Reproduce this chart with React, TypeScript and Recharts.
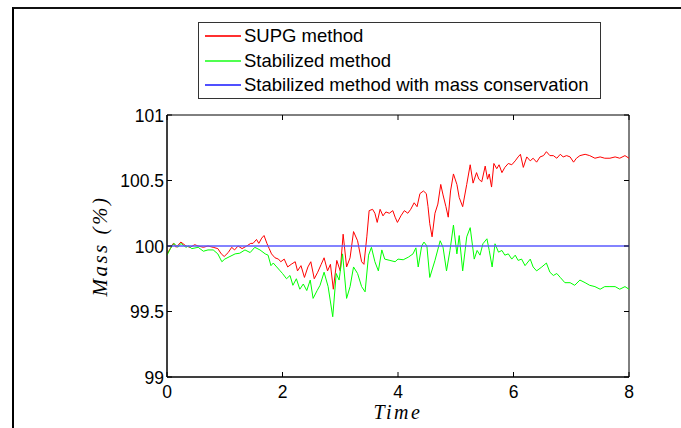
import { LineChart, Line, XAxis, YAxis, Legend, ReferenceArea } from 'recharts';

// mass history (%)
const redTime = [0, 0.11, 0.16, 0.24, 0.33, 0.4, 0.48, 0.54, 0.63, 0.71, 0.8, 0.88, 0.94, 0.99, 1.06, 1.12, 1.17, 1.23, 1.3, 1.38, 1.45, 1.49, 1.55, 1.59, 1.64, 1.68, 1.73, 1.77, 1.81, 1.87, 1.93, 1.97, 2.03, 2.09, 2.15, 2.22, 2.26, 2.32, 2.38, 2.44, 2.49, 2.55, 2.61, 2.67, 2.72, 2.78, 2.83, 2.88, 2.94, 3.0, 3.05, 3.11, 3.17, 3.23, 3.3, 3.37, 3.41, 3.46, 3.5, 3.56, 3.6, 3.64, 3.69, 3.74, 3.79, 3.85, 3.91, 3.95, 3.99, 4.05, 4.11, 4.17, 4.22, 4.28, 4.33, 4.38, 4.44, 4.49, 4.52, 4.55, 4.59, 4.64, 4.69, 4.74, 4.78, 4.83, 4.87, 4.91, 4.96, 5.02, 5.06, 5.12, 5.19, 5.25, 5.3, 5.36, 5.4, 5.45, 5.51, 5.55, 5.58, 5.62, 5.66, 5.71, 5.75, 5.8, 5.85, 5.91, 5.97, 6.03, 6.08, 6.12, 6.17, 6.23, 6.29, 6.34, 6.4, 6.46, 6.52, 6.57, 6.63, 6.69, 6.75, 6.81, 6.86, 6.92, 6.98, 7.04, 7.09, 7.15, 7.24, 7.32, 7.41, 7.5, 7.58, 7.67, 7.76, 7.84, 7.93, 8.0];
const redMass = [99.94, 100.02, 99.99, 100.03, 100.0, 99.99, 100.01, 100.0, 99.99, 100.0, 99.99, 99.98, 99.94, 99.92, 99.95, 99.99, 99.97, 100.0, 99.98, 100.0, 100.02, 100.02, 100.05, 100.02, 100.06, 100.08, 100.02, 99.98, 99.94, 99.91, 99.9, 99.88, 99.9, 99.84, 99.86, 99.88, 99.81, 99.85, 99.76, 99.84, 99.88, 99.75, 99.8, 99.86, 99.91, 99.81, 99.86, 99.67, 99.89, 99.81, 100.09, 99.84, 99.91, 100.11, 100.04, 99.88, 99.86, 100.07, 100.27, 100.28, 100.25, 100.18, 100.28, 100.23, 100.26, 100.25, 100.27, 100.22, 100.18, 100.23, 100.27, 100.25, 100.28, 100.33, 100.3, 100.4, 100.42, 100.4, 100.3, 100.17, 100.07, 100.25, 100.32, 100.47, 100.39, 100.3, 100.22, 100.42, 100.55, 100.47, 100.37, 100.3, 100.47, 100.62, 100.48, 100.56, 100.51, 100.49, 100.61, 100.51, 100.55, 100.45, 100.63, 100.59, 100.62, 100.56, 100.6, 100.63, 100.62, 100.65, 100.68, 100.7, 100.6, 100.68, 100.65, 100.67, 100.64, 100.68, 100.69, 100.72, 100.69, 100.69, 100.67, 100.7, 100.68, 100.69, 100.68, 100.64, 100.67, 100.69, 100.7, 100.69, 100.67, 100.68, 100.67, 100.67, 100.68, 100.67, 100.69, 100.67];

const greenTime = [0, 0.06, 0.12, 0.19, 0.24, 0.33, 0.37, 0.43, 0.54, 0.63, 0.71, 0.8, 0.88, 0.95, 1.0, 1.09, 1.18, 1.26, 1.35, 1.44, 1.52, 1.61, 1.7, 1.75, 1.8, 1.84, 1.9, 1.96, 2.0, 2.07, 2.13, 2.18, 2.24, 2.3, 2.36, 2.42, 2.48, 2.53, 2.6, 2.65, 2.72, 2.79, 2.87, 2.93, 2.98, 3.04, 3.11, 3.17, 3.23, 3.3, 3.37, 3.43, 3.49, 3.54, 3.6, 3.66, 3.72, 3.77, 3.86, 3.95, 4.0, 4.09, 4.18, 4.26, 4.31, 4.35, 4.41, 4.45, 4.5, 4.55, 4.64, 4.73, 4.78, 4.84, 4.9, 4.96, 5.02, 5.06, 5.12, 5.19, 5.25, 5.32, 5.37, 5.42, 5.47, 5.54, 5.58, 5.63, 5.68, 5.74, 5.8, 5.85, 5.91, 5.97, 6.03, 6.08, 6.14, 6.2, 6.29, 6.34, 6.4, 6.49, 6.57, 6.63, 6.69, 6.75, 6.81, 6.89, 6.98, 7.06, 7.15, 7.24, 7.32, 7.41, 7.5, 7.58, 7.67, 7.76, 7.84, 7.93, 8.0];
const greenMass = [99.93, 99.98, 100.02, 99.99, 100.02, 99.99, 100.0, 99.98, 99.99, 99.96, 99.97, 99.97, 99.94, 99.88, 99.9, 99.92, 99.94, 99.945, 99.97, 99.95, 99.99, 99.97, 99.94, 99.93, 99.85, 99.87, 99.84, 99.81, 99.79, 99.75, 99.775, 99.7, 99.75, 99.67, 99.71, 99.66, 99.74, 99.6, 99.66, 99.7, 99.8, 99.69, 99.46, 99.79, 99.74, 99.94, 99.6, 99.69, 99.84, 99.79, 99.69, 99.65, 99.93, 99.99, 99.88, 99.81, 99.97, 99.9, 99.89, 99.88, 99.9, 99.895, 99.915, 99.94, 99.986, 99.84, 100.0, 100.03, 100.0, 99.76, 99.89, 100.04, 99.99, 99.81, 99.966, 100.16, 99.94, 100.08, 99.81, 100.07, 100.14, 99.9, 99.966, 99.93, 100.017, 100.055, 99.966, 99.84, 100.017, 99.953, 99.966, 99.93, 99.94, 99.9, 99.93, 99.89, 99.9, 99.85, 99.9, 99.84, 99.81, 99.84, 99.87, 99.8, 99.775, 99.79, 99.76, 99.72, 99.72, 99.7, 99.74, 99.72, 99.7, 99.69, 99.67, 99.69, 99.69, 99.69, 99.67, 99.69, 99.67];

const blueTime = [0, 8];
const blueMass = [100, 100];

const xTicks = [0, 2, 4, 6, 8];
const yTicks = [99, 99.5, 100, 100.5, 101];

const seriesNames = ['SUPG method', 'Stabilized method', 'Stabilized method with mass conservation'];
const seriesColors = ['#ff0000', '#00ff00', '#0000ff'];
const swatchColors = ['#ff3030', '#50ff50', '#5050ff'];

const toPoints = (ts: number[], ms: number[]) => ts.map((t, i) => ({ t, m: ms[i] }));

const W = 681;
const H = 428;
const M = { top: 115, right: 52, bottom: 0, left: 0 };
const Y_AXIS_W = 167;
const X_AXIS_H = 51;
const PLOT_W = W - M.left - M.right - Y_AXIS_W;
const PLOT_H = H - M.top - M.bottom - X_AXIS_H;
const TICK_LEN = 5;
const sans = '"Liberation Sans", Arial, sans-serif';
const serif = '"Liberation Serif", "Times New Roman", serif';

const XTick = (props: any) => {
    const { x, y, payload } = props;
    return (
        <g>
            <line x1={x} y1={y} x2={x} y2={y - TICK_LEN} stroke="#000" />
            <line x1={x} y1={y - PLOT_H} x2={x} y2={y - PLOT_H + TICK_LEN} stroke="#000" />
            <text x={x} y={y + 20.5} textAnchor="middle" fontSize={17.5} fontFamily={sans} fill="#000">{payload.value}</text>
        </g>
    );
};

const YTick = (props: any) => {
    const { x, y, payload } = props;
    return (
        <g>
            <line x1={x} y1={y} x2={x + TICK_LEN} y2={y} stroke="#000" />
            <line x1={x + PLOT_W} y1={y} x2={x + PLOT_W - TICK_LEN} y2={y} stroke="#000" />
            <text x={x - 3} y={y + 6.5} textAnchor="end" fontSize={17.5} fontFamily={sans} fill="#000">{payload.value}</text>
        </g>
    );
};

const MatlabLegend = () => (
    <div style={{ boxSizing: 'border-box', width: 403, height: 77, border: '1px solid #333', background: '#fff', padding: '1px 0 0 6px', fontFamily: sans }}>
        {seriesNames.map((name, i) => (
            <div key={name} style={{ display: 'flex', alignItems: 'center', height: 24.5 }}>
                <div style={{ width: 36, height: 2, background: swatchColors[i], marginRight: 3 }} />
                <span style={{ fontSize: 18.5, lineHeight: 1, color: '#000' }}>{name}</span>
            </div>
        ))}
    </div>
);

export default function App() {
    return (
        <div style={{ position: 'absolute', left: 0, top: 0, width: W, height: H, background: '#fff', fontFamily: sans }}>
            <div style={{ position: 'absolute', left: 12, top: 7, right: 0, bottom: 0, borderLeft: '2px solid #000', borderTop: '2px solid #111' }} />
            <LineChart width={W} height={H} margin={M} style={{ position: 'absolute', left: 0, top: 0 }}>
                <XAxis
                    type="number"
                    dataKey="t"
                    domain={[0, 8]}
                    ticks={xTicks}
                    height={X_AXIS_H}
                    tickSize={0}
                    tickMargin={0}
                    tickLine={false}
                    axisLine={{ stroke: '#000' }}
                    tick={XTick}
                    interval={0}
                    allowDataOverflow
                />
                <YAxis
                    type="number"
                    domain={[99, 101]}
                    ticks={yTicks}
                    width={Y_AXIS_W}
                    tickSize={0}
                    tickMargin={0}
                    tickLine={false}
                    axisLine={{ stroke: '#000' }}
                    tick={YTick}
                    interval={0}
                    allowDataOverflow
                />
                <ReferenceArea x1={0} x2={8} y1={99} y2={101} stroke="#000" strokeOpacity={1} fill="none" />
                <Line data={toPoints(redTime, redMass)} dataKey="m" name={seriesNames[0]} type="linear" stroke={seriesColors[0]} strokeWidth={1} dot={false} activeDot={false} isAnimationActive={false} />
                <Line data={toPoints(greenTime, greenMass)} dataKey="m" name={seriesNames[1]} type="linear" stroke={seriesColors[1]} strokeWidth={1} dot={false} activeDot={false} isAnimationActive={false} />
                <Line data={toPoints(blueTime, blueMass)} dataKey="m" name={seriesNames[2]} type="linear" stroke="#5a5aff" strokeWidth={1.5} dot={false} activeDot={false} isAnimationActive={false} />
                <Legend
                    layout="vertical"
                    align="center"
                    verticalAlign="middle"
                    content={MatlabLegend}
                    wrapperStyle={{ left: 198, top: 22, width: 403, height: 77 }}
                />
                <text x={100} y={246} transform="rotate(-90 100 246)" textAnchor="middle" dominantBaseline="central" fontSize={21} fontFamily={serif} fontStyle="italic" letterSpacing={2.5} fill="#000">Mass (%)</text>
                <text x={398} y={419} textAnchor="middle" fontSize={20} fontFamily={serif} fontStyle="italic" letterSpacing={2.5} fill="#000">Time</text>
            </LineChart>
        </div>
    );
}
